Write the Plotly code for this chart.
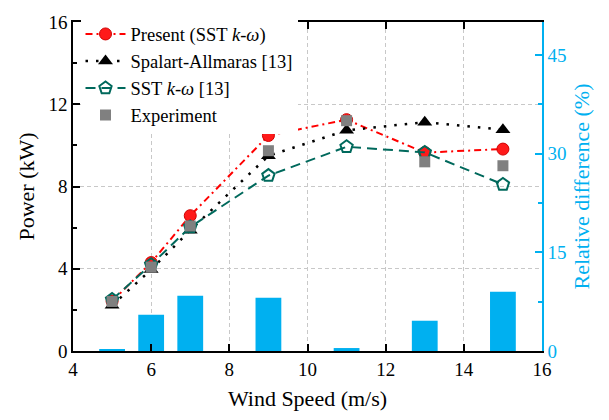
import plotly.graph_objects as go

wind = [5, 6, 7, 9, 11, 13, 15]
present = [2.42, 4.30, 6.58, 10.48, 11.25, 9.65, 9.82]
spalart = [2.22, 3.96, 5.87, 9.49, 10.73, 11.13, 10.76]
sst = [2.50, 4.20, 6.03, 8.53, 9.93, 9.66, 8.10]
experiment = [2.41, 4.08, 6.08, 9.74, 11.20, 9.20, 9.01]
rel_diff = [0.25, 5.5, 8.4, 8.1, 0.45, 4.6, 9.0]

FONT = "Liberation Serif, Times New Roman, serif"
BLUE = "#00B0F0"
TEAL = "#00695C"
GRID = "#C8C8C8"

fig = go.Figure()

fig.add_trace(go.Bar(
    x=wind, y=rel_diff, name="Relative difference", yaxis="y2",
    marker=dict(color=BLUE, line=dict(width=0)), width=0.66,
    showlegend=False,
))
fig.add_trace(go.Scatter(
    x=wind, y=present, name="Present (SST <i>k</i>-<i>ω</i>)",
    mode="lines+markers",
    line=dict(color="#FF0000", width=2, dash="7px,4px,2px,4px"),
    marker=dict(symbol="circle", size=12, color="#FF1A1A",
                line=dict(color="#D00000", width=1)),
))
fig.add_trace(go.Scatter(
    x=wind, y=spalart, name="Spalart-Allmaras [13]",
    mode="lines+markers",
    line=dict(color="black", width=2.5, dash="2.5px,8px"),
    marker=dict(symbol="triangle-up", size=13, color="black"),
))
fig.add_trace(go.Scatter(
    x=wind, y=sst, name="SST <i>k</i>-<i>ω</i> [13]",
    mode="lines+markers",
    line=dict(color=TEAL, width=2, dash="10px,6px"),
    marker=dict(symbol="pentagon-open", size=13, color=TEAL,
                line=dict(color=TEAL, width=2)),
))
fig.add_trace(go.Scatter(
    x=wind, y=experiment, name="Experiment",
    mode="markers",
    marker=dict(symbol="square", size=11, color="#808080"),
))

fig.update_layout(
    width=609, height=420,
    margin=dict(l=73, r=67, t=17, b=69),
    paper_bgcolor="white", plot_bgcolor="white",
    font=dict(family=FONT, size=19, color="black"),
    showlegend=True,
    legend=dict(x=0.016, y=1.02, xanchor="left", yanchor="top",
                bgcolor="white", font=dict(family=FONT, size=18.5, color="black"),
                itemwidth=40, tracegroupgap=0, borderwidth=0),
    xaxis=dict(
        range=[4, 16], dtick=2, tick0=4,
        title=dict(text="Wind Speed (m/s)", standoff=12, font=dict(family=FONT, size=22)),
        tickfont=dict(family=FONT, size=19),
        showline=True, linecolor="black", linewidth=1.5, mirror="ticks",
        ticks="inside", ticklen=7, tickcolor="black", tickwidth=1.5,
        showgrid=True, gridcolor=GRID, griddash="4px,3px", gridwidth=1,
        zeroline=False,
    ),
    yaxis=dict(
        range=[0, 16], dtick=4,
        title=dict(text="Power (kW)", standoff=8, font=dict(family=FONT, size=22)),
        tickfont=dict(family=FONT, size=19),
        showline=True, linecolor="black", linewidth=1.5,
        ticks="inside", ticklen=7, tickcolor="black", tickwidth=1.5,
        minor=dict(ticks="inside", dtick=2, ticklen=4, tickcolor="black", showgrid=False),
        showgrid=True, gridcolor=GRID, griddash="4px,3px", gridwidth=1,
        zeroline=False,
    ),
    yaxis2=dict(
        range=[0, 50], tickvals=[0, 15, 30, 45], overlaying="y", side="right",
        title=dict(text="Relative difference (%)", standoff=8, font=dict(family=FONT, size=22, color=BLUE)),
        tickfont=dict(family=FONT, size=19, color=BLUE),
        showline=True, linecolor=BLUE, linewidth=1.5,
        ticks="inside", ticklen=7, tickcolor=BLUE, tickwidth=1.5,
        minor=dict(ticks="inside", tickvals=[7.5, 22.5, 37.5], ticklen=4, tickcolor=BLUE, showgrid=False),
        showgrid=False, zeroline=False,
    ),
)

fig.write_html("out.html")
